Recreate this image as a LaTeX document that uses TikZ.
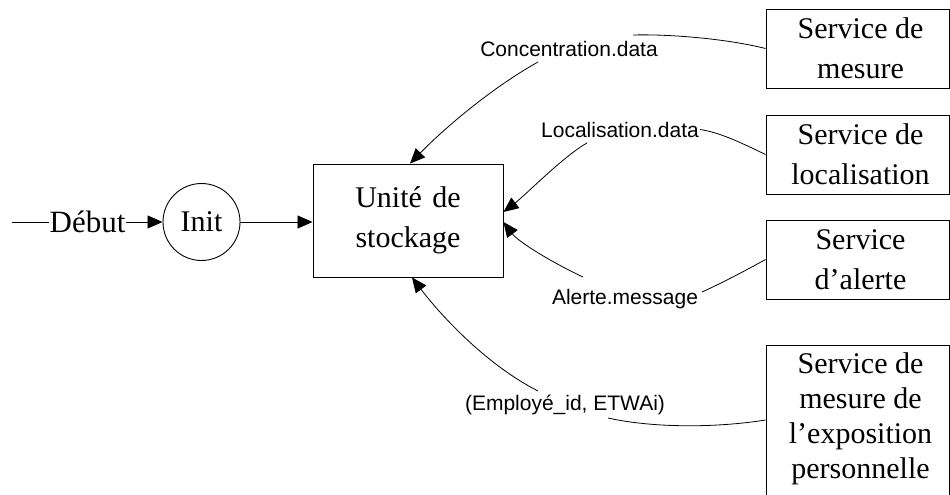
\documentclass[tikz,border=0pt]{standalone}
\usepackage{fontspec}
\setmainfont{Liberation Serif}
\newfontfamily\lblfont{Liberation Sans}
\usetikzlibrary{arrows.meta,calc}
\begin{document}
\begin{tikzpicture}[x=1pt,y=-1pt,
  box/.style={draw, line width=0.9pt, align=center, inner sep=0pt, font=\fontsize{30}{40}\selectfont},
  lbl/.style={font=\lblfont\fontsize{21}{24}\selectfont, inner sep=0pt},
  conn/.style={line width=0.8pt},
  arr/.style={conn, -{Triangle[length=15pt,width=13pt]}}]
\useasboundingbox (0,0) rectangle (950,495);
\clip (0,0) rectangle (950,495);
% service boxes
\node[box, minimum width=183, minimum height=79] (s1) at (857.5,48.5) {\hspace*{6pt}Service de\\\hspace*{6pt}mesure};
\node[box, minimum width=183, minimum height=79] (s2) at (857.5,154.5) {\hspace*{6pt}Service de\\\hspace*{6pt}localisation};
\node[box, minimum width=183, minimum height=79] (s3) at (857.5,259.5) {\hspace*{6pt}Service\\\hspace*{6pt}d’alerte};
\node[box, minimum width=183, minimum height=165, font=\fontsize{30}{35}\selectfont, text depth=24pt] (s4) at (857.5,427.5) {\hspace*{6pt}Service de\\\hspace*{6pt}mesure de\\\hspace*{6pt}l’exposition\\\hspace*{6pt}personnelle};
% storage unit
\node[box, minimum width=190, minimum height=113] (u) at (408,220.5) {Unité\hspace{3pt} de\\stockage};
% init
\node[draw, circle, line width=0.9pt, minimum size=77, inner sep=0pt, font=\fontsize{30}{36}\selectfont] (init) at (201.5,222) {Init};
\node[inner sep=0pt, font=\fontsize{31}{36}\selectfont] (deb) at (87.5,222) {Début};
\coordinate (start) at (12,222);
% labels
\node[lbl] (l1) at (569,48.5) {Concentration.data};
\node[lbl] (l2) at (620,129.5) {Localisation.data};
\node[lbl] (l3) at (625,299) {Alerte.message};
\node[lbl] (l4) at (565,405) {(Employé\_id, ETWAi)};
% main flow
\draw[conn] (start) -- (deb.west);
\draw[arr] (deb.east) -- (init.west);
\draw[arr] (init.east) -- (init.east -| u.west);
% connector 1
\draw[conn] (s1.west) .. controls +(-40,-10) and +(35,-1) .. ($(l1.center)+(64,-13.5)$);
\draw[arr] ($(l1.center)+(-31,13.5)$) .. controls +(-45,25) and +(35,-36) .. ($(u.north)+(2,0)$);
% connector 2
\draw[conn] (s2.west) .. controls +(-25,-12) and +(20,3) .. ($(l2.center)+(80,0)$);
\draw[arr] ($(l2.center)+(-33,13.5)$) .. controls +(-22,12) and +(22,-17) .. ($(u.east)+(0,-8.5)$);
% connector 3
\draw[conn] (s3.west) .. controls +(-20,11) and +(20,-9) .. ($(l3.center)+(77,-7)$);
\draw[arr] ($(l3.center)+(-42,-22)$) .. controls +(-30,-14) and +(15,20) .. ($(u.east)+(0,1.5)$);
% connector 4
\draw[conn] (s4.west|-0,420) .. controls +(-50,8) and +(45,10) .. ($(l4.center)+(43,13)$);
\draw[arr] ($(l4.center)+(-27,-14)$) .. controls +(-55,-28) and +(25,33) .. ($(u.south)+(4,0)$);
\end{tikzpicture}
\end{document}
